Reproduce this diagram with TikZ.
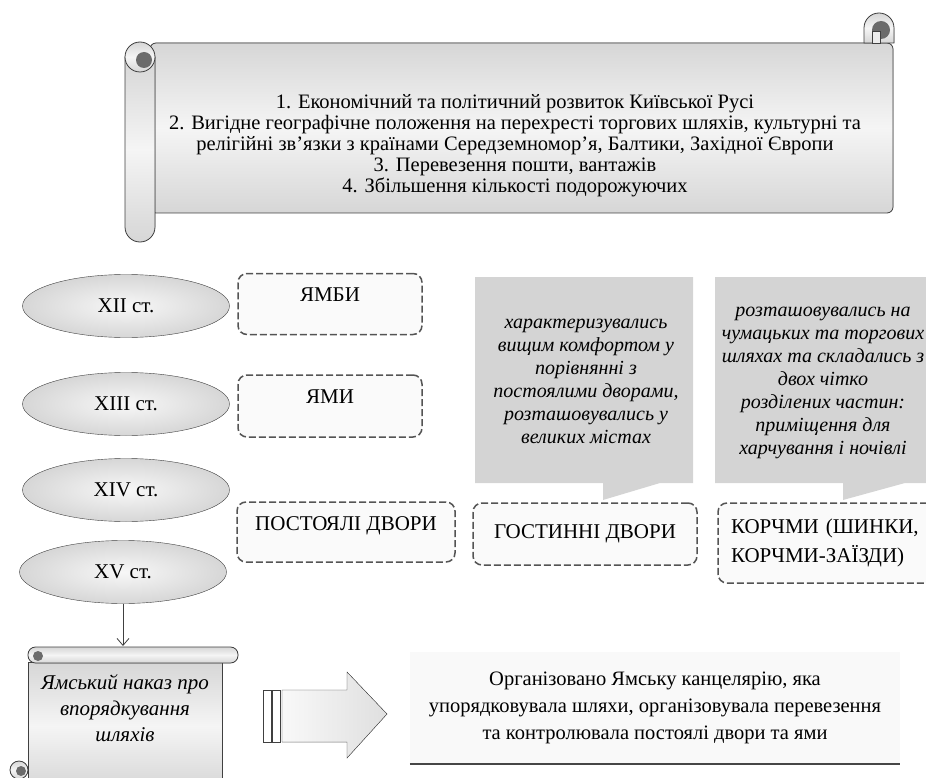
\documentclass[tikz,border=0pt]{standalone}
\usepackage{fontspec}
\setmainfont{Liberation Serif}
\usetikzlibrary{%
	shapes.geometric,%
	arrows.meta,%
	positioning
}
\definecolor{edge-gray}{rgb}{0.25, 0.25, 0.25}
\definecolor{dash-gray}{rgb}{0.33, 0.33, 0.33}
\definecolor{note-gray}{rgb}{0.83, 0.83, 0.83}
\definecolor{roll-dark}{rgb}{0.42, 0.42, 0.42}

\begin{document}
\begin{tikzpicture}[x=1pt, y=-1pt,
		century/.style={ellipse, draw=edge-gray, inner color=gray!6, outer color=gray!32,
			minimum width=207pt, minimum height=63pt, font=\fontsize{21}{24}\selectfont},
		lodging/.style={draw=dash-gray, line width=1.5pt, dash pattern=on 7pt off 3pt, rounded corners=9pt,
			fill=gray!4, font=\fontsize{21}{29}\selectfont},
		scrollfill/.style={draw=edge-gray, thick, top color=gray!32, bottom color=gray!32, middle color=gray!8},
		notetext/.style={font=\itshape\fontsize{20}{23}\selectfont, align=center}
	]
		\useasboundingbox (0,0) rectangle (926,778);
		\clip (0,0) rectangle (926,778);
		
		% Big scroll with the reasons
		\filldraw[scrollfill, rounded corners=6pt] (150,43) -- (893,43) -- (893,213) -- (150,213) -- cycle;
		\filldraw[scrollfill] (864,43) -- (864,28) arc[start angle=180, end angle=360, radius=15] -- (894,43) -- cycle;
		\fill[roll-dark] (881,30) circle (9);
		\filldraw[fill=gray!15, draw=edge-gray] (872,31) rectangle (880,43);
		\filldraw[scrollfill] (125,57) -- (125,227) arc[start angle=180, end angle=0, radius=15] -- (155,57) -- cycle;
		\filldraw[scrollfill] (140,57) circle (15);
		\fill[roll-dark] (144,60) circle (8);
		\node[font=\fontsize{20.5}{21}\selectfont, align=center] (reasons) at (515,146)
			{1. Економічний та політичний розвиток Київської Русі\\
			2. Вигідне географічне положення на перехресті торгових шляхів, культурні та\\
			релігійні зв’язки з країнами Середземномор’я, Балтики, Західної Європи\\
			3. Перевезення пошти, вантажів\\
			4. Збільшення кількості подорожуючих};
		
		% Centuries
		\node[century] (c12) at (126,306) {XII ст.};
		\node[century] (c13) at (126,404) {XIII ст.};
		\node[century] (c14) at (126,490) {XIV ст.};
		\node[century] (c15) at (123,572) {XV ст.};
		
		% Kinds of stations
		\node[lodging, minimum width=184pt, minimum height=61pt, text depth=18pt] (yambi) at (330,304) {ЯМБИ};
		\node[lodging, minimum width=184pt, minimum height=62pt, text depth=18pt] (yamy) at (330,406) {ЯМИ};
		\node[lodging, minimum width=218pt, minimum height=60pt, text depth=16pt] (postoyali) at (346,532) {ПОСТОЯЛІ ДВОРИ};
		\node[lodging, minimum width=224pt, minimum height=62pt] (hostynni) at (585,534) {ГОСТИННІ ДВОРИ};
		\node[lodging, minimum width=218pt, minimum height=80pt, text width=192pt, align=left] (korchmy) at (827,543)
			{КОРЧМИ (ШИНКИ,\\КОРЧМИ-ЗАЇЗДИ)};
		
		% Notes above the last two boxes
		\fill[note-gray] (475,277) -- (693,277) -- (693,483) -- (660,483) -- (603,500) -- (603,483) -- (475,483) -- cycle;
		\fill[note-gray] (715,277) -- (940,277) -- (940,483) -- (905,483) -- (843,500) -- (843,483) -- (715,483) -- cycle;
		\node[notetext] (comfort) at (586,381)
			{характеризувались\\вищим комфортом у\\порівнянні з\\постоялими дворами,\\розташовувались у\\великих містах};
		\node[notetext] (parts) at (823,383)
			{розташовувались на\\чумацьких та торгових\\шляхах та складались з\\двох чітко\\розділених частин:\\приміщення для\\харчування і ночівлі};
		
		% Small scroll with the order
		\filldraw[scrollfill] (28,662) rectangle (222,790);
		\filldraw[scrollfill, rounded corners=7.5pt] (28,647) rectangle (238,663);
		\fill[roll-dark] (38,656) circle (5);
		\filldraw[scrollfill] (19,770) circle (9);
		\fill[roll-dark] (21,771) circle (5);
		\node[font=\itshape\fontsize{21}{26}\selectfont, align=center] (order) at (125,708)
			{Ямський наказ про\\впорядкування\\шляхів};
		\draw[edge-gray, thick, -{Straight Barb[length=7pt, width=12pt]}] (c15.south) -- (c15.south |- 0,646);
		
		% Block arrow
		\filldraw[fill=white, draw=edge-gray] (263,690) rectangle (271,742);
		\filldraw[fill=white, draw=edge-gray] (272,690) rectangle (280,742);
		\filldraw[draw=edge-gray, left color=gray!5, right color=gray!25]
			(282,690) -- (347,690) -- (347,672) -- (387,714) -- (347,758) -- (347,742) -- (282,742) -- cycle;
		
		% Result
		\node[fill=gray!5, minimum width=490pt, minimum height=112pt, align=center,
			font=\fontsize{20.5}{27}\selectfont] (office) at (655,708)
			{Організовано Ямську канцелярію, яка\\
			упорядковувала шляхи, організовувала перевезення\\
			та контролювала постоялі двори та ями};
		\draw[gray!55!black, line width=2pt] (office.south west) -- (office.south east);
	\end{tikzpicture}
\end{document}
